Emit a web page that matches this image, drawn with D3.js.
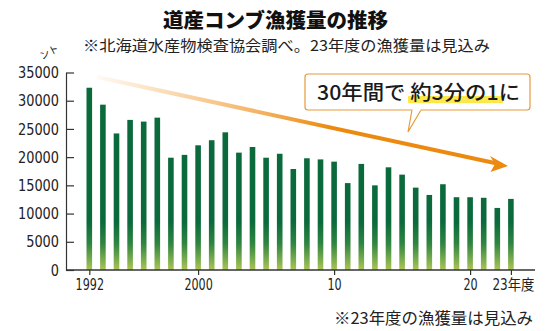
<!DOCTYPE html>
<html>
<head>
<meta charset="utf-8">
<script src="https://cdn.jsdelivr.net/npm/d3@7"></script>
<style>
  body { margin: 0; background: #fff; }
  svg { display: block; }
</style>
</head>
<body>
<div id="chart"></div>
<script>
// Data (tons, 道産コンブ漁獲量)
const years = [1992, 1993, 1994, 1995, 1996, 1997, 1998, 1999, 2000, 2001,
  2002, 2003, 2004, 2005, 2006, 2007, 2008, 2009, 2010, 2011,
  2012, 2013, 2014, 2015, 2016, 2017, 2018, 2019, 2020, 2021, 2022, 2023];
const catchTons = [32300, 29300, 24200, 26600, 26300, 27000, 19900, 20400, 22100, 23000,
  24400, 20800, 21800, 19900, 20600, 17900, 19800, 19600, 19200, 15400,
  18800, 15000, 18200, 16900, 14600, 13300, 15200, 12900, 12900, 12800, 11000, 12600];
const xTickYears = [1992, 2000, 2010, 2020, 2023];
const xTickLabels = ["1992", "2000", "10", "20", "23年度"];
const yTicks = [0, 5000, 10000, 15000, 20000, 25000, 30000, 35000];

const W = 550, H = 331;
const jp = "'Noto Sans CJK JP', 'Noto Sans', sans-serif";
const num = "'Liberation Sans Narrow', 'DejaVu Sans Condensed', 'Liberation Sans', " + jp;

const svg = d3.select("#chart").append("svg")
  .attr("width", W).attr("height", H);

const defs = svg.append("defs");

// bar gradient: dark green, fading to yellow-green near the baseline
const barGrad = defs.append("linearGradient")
  .attr("id", "barGrad")
  .attr("gradientUnits", "userSpaceOnUse")
  .attr("x1", 0).attr("x2", 0).attr("y1", 222).attr("y2", 270);
barGrad.append("stop").attr("offset", 0).attr("stop-color", "#0b6a3c");
barGrad.append("stop").attr("offset", 0.45).attr("stop-color", "#2f8541");
barGrad.append("stop").attr("offset", 1).attr("stop-color", "#aac556");

// arrow gradient: transparent on the left to orange
const arrowGrad = defs.append("linearGradient")
  .attr("id", "arrowGrad")
  .attr("gradientUnits", "userSpaceOnUse")
  .attr("x1", 95).attr("x2", 330).attr("y1", 0).attr("y2", 0);
arrowGrad.append("stop").attr("offset", 0).attr("stop-color", "#f4a53a").attr("stop-opacity", 0.05);
arrowGrad.append("stop").attr("offset", 0.5).attr("stop-color", "#f2a444").attr("stop-opacity", 0.6);
arrowGrad.append("stop").attr("offset", 1).attr("stop-color", "#ec8a10").attr("stop-opacity", 1);

// scales
const x = d3.scaleLinear().domain([1992, 2023]).range([89.3, 510.9]);
const y = d3.scaleLinear().domain([0, 35000]).range([270, 72.5]);
const axisLeftX = 66;
const barW = 5.6;

// bars
svg.append("g")
  .selectAll("rect")
  .data(years)
  .enter()
  .append("rect")
  .attr("x", (d) => x(d) - barW / 2)
  .attr("y", (d, i) => y(catchTons[i]))
  .attr("width", barW)
  .attr("height", (d, i) => y(0) - y(catchTons[i]))
  .attr("fill", "url(#barGrad)");

// y axis (ticks point inward)
const yAxis = svg.append("g")
  .attr("transform", `translate(${axisLeftX},0)`)
  .call(d3.axisLeft(y).tickValues(yTicks).tickSize(-8).tickSizeOuter(0).tickPadding(7)
    .tickFormat(d3.format("d")));
yAxis.select(".domain").attr("stroke", "#333").attr("stroke-width", 1.2);
yAxis.selectAll(".tick line").attr("stroke", "#333").attr("stroke-width", 1.2);
yAxis.selectAll(".tick text")
  .attr("fill", "#222")
  .style("font-family", num)
  .style("font-size", "16px")
  .attr("textLength", (d) => String(d).length * 8.2)
  .attr("lengthAdjust", "spacingAndGlyphs");

// x axis
const xAxis = svg.append("g")
  .attr("transform", `translate(0,${y(0)})`)
  .call(d3.axisBottom(x).tickValues(xTickYears).tickSize(5).tickPadding(4)
    .tickFormat((d, i) => xTickLabels[i]));
xAxis.select(".domain").remove();
xAxis.append("line")
  .attr("x1", axisLeftX).attr("x2", 535)
  .attr("stroke", "#333").attr("stroke-width", 1.3);
xAxis.selectAll(".tick line").attr("stroke", "#333").attr("stroke-width", 1.2);
xAxis.selectAll(".tick text")
  .attr("fill", "#222")
  .style("font-family", num)
  .style("font-size", "15px")
  .attr("text-anchor", (d, i) => i === xTickLabels.length - 1 ? "start" : "middle")
  .attr("x", (d, i) => i === xTickLabels.length - 1 ? -19 : 0)
  .attr("textLength", (d, i) => i === xTickLabels.length - 1 ? 42 : xTickLabels[i].length * 7.1)
  .attr("lengthAdjust", "spacingAndGlyphs");

// unit label
svg.append("text")
  .attr("transform", "translate(42,60) rotate(-28)")
  .attr("fill", "#222")
  .style("font-family", jp)
  .style("font-size", "10px")
  .text("ント");

// title & notes
svg.append("text")
  .attr("x", 275.5).attr("y", 28)
  .attr("text-anchor", "middle")
  .attr("fill", "#111")
  .style("font-family", jp)
  .style("font-size", "20px")
  .style("font-weight", 900)
  .attr("textLength", 225)
  .attr("lengthAdjust", "spacingAndGlyphs")
  .text("道産コンブ漁獲量の推移");

svg.append("text")
  .attr("x", 83).attr("y", 51)
  .attr("fill", "#222")
  .style("font-family", jp)
  .style("font-size", "15px")
  .attr("textLength", 407)
  .attr("lengthAdjust", "spacingAndGlyphs")
  .text("※北海道水産物検査協会調べ。23年度の漁獲量は見込み");

svg.append("text")
  .attr("x", 334).attr("y", 324)
  .attr("fill", "#222")
  .style("font-family", jp)
  .style("font-size", "16px")
  .attr("textLength", 199)
  .attr("lengthAdjust", "spacingAndGlyphs")
  .text("※23年度の漁獲量は見込み");

// trend arrow
const a0 = [97, 77], a1 = [497, 163.5], tip = [508, 166];
svg.append("line")
  .attr("x1", a0[0]).attr("y1", a0[1]).attr("x2", a1[0]).attr("y2", a1[1])
  .attr("stroke", "url(#arrowGrad)")
  .attr("stroke-width", 4);
svg.append("path")
  .attr("d", `M${tip[0]},${tip[1]} L490,156 L495,164 L490.5,172 Z`)
  .attr("fill", "#ec8a10");

// callout
const callout = svg.append("g");
callout.append("rect")
  .attr("x", 305).attr("y", 74).attr("width", 225).attr("height", 36).attr("rx", 3)
  .attr("fill", "#fff").attr("stroke", "#e69a3c").attr("stroke-width", 1.2);
callout.append("path")
  .attr("d", "M412,110 L408,132 L421,110")
  .attr("fill", "#fff").attr("stroke", "#e69a3c").attr("stroke-width", 1.2);
callout.append("line")
  .attr("x1", 412.6).attr("x2", 420.4).attr("y1", 110).attr("y2", 110)
  .attr("stroke", "#fff").attr("stroke-width", 2);
callout.append("rect")
  .attr("x", 408).attr("y", 96).attr("width", 95).attr("height", 7)
  .attr("fill", "#fde84c");
callout.append("text")
  .attr("x", 317).attr("y", 99.5)
  .attr("fill", "#1a1a1a")
  .style("font-family", jp)
  .style("font-size", "20px")
  .style("font-weight", 500)
  .attr("textLength", 203)
  .attr("lengthAdjust", "spacingAndGlyphs")
  .text("30年間で 約3分の1に");
</script>
</body>
</html>
